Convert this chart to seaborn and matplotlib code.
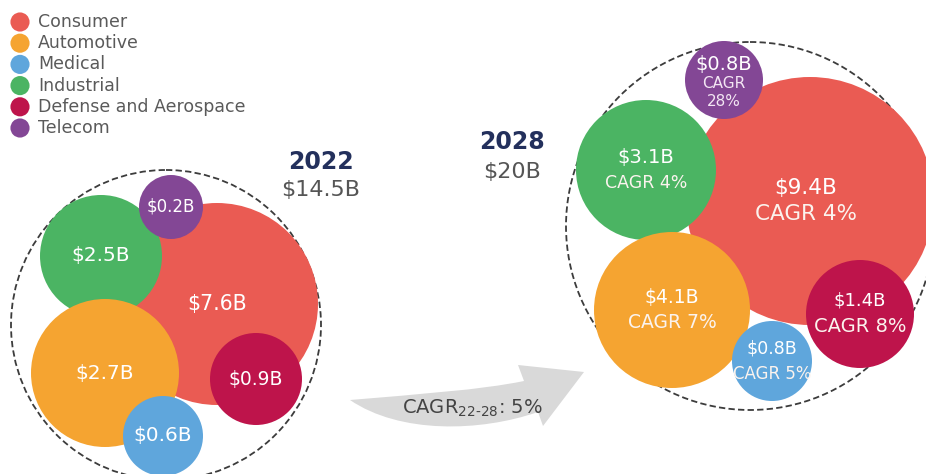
import matplotlib
matplotlib.use("Agg")
import matplotlib.pyplot as plt
from matplotlib.patches import Circle, PathPatch
from matplotlib.path import Path
import pandas as pd
import seaborn as sns

# market data (USD billions)
segments = ["Consumer", "Automotive", "Medical", "Industrial", "Defense and Aerospace", "Telecom"]
value_2022 = [7.6, 2.7, 0.6, 2.5, 0.9, 0.2]
value_2028 = [9.4, 4.1, 0.8, 3.1, 1.4, 0.8]
cagr_22_28 = [4, 7, 5, 4, 8, 28]
total_2022 = 14.5
total_2028 = 20
total_cagr = 5

colors = ["#EA5B53", "#F5A431", "#5FA6DC", "#4BB463", "#BE144B", "#834795"]

# bubble layout in pixel space (x, y, radius) -- hand placed like the original
layout_2022 = {
    "Consumer": (217, 304, 101),
    "Automotive": (105, 373, 74),
    "Medical": (163, 436, 40),
    "Industrial": (101, 256, 61),
    "Defense and Aerospace": (256, 379, 46),
    "Telecom": (171, 207, 32),
}
layout_2028 = {
    "Consumer": (810, 201, 124),
    "Automotive": (672, 310, 78),
    "Medical": (772, 361, 40),
    "Industrial": (646, 170, 70),
    "Defense and Aerospace": (860, 314, 54),
    "Telecom": (724, 80, 39),
}
font_2022 = [14.8, 14.5, 14.5, 14.5, 13.5, 12]
font_2028 = [15.5, 13.5, 12.5, 14, 13, 14]
font_cagr = [15.5, 13.5, 12, 12.5, 14, 11]
draw_order = ["Consumer", "Industrial", "Telecom", "Automotive", "Defense and Aerospace", "Medical"]

sns.set_theme(style="white")
plt.rcParams["font.family"] = ["DejaVu Sans"]

fig = plt.figure(figsize=(9.26, 4.74), dpi=100)
ax = fig.add_axes([0, 0, 1, 1])
ax.set_xlim(0, 926)
ax.set_ylim(474, 0)
ax.axis("off")

# legend as seaborn scatter
leg = pd.DataFrame({"segment": segments, "x": [20] * 6, "y": [22 + 21.2 * i for i in range(6)]})
sns.scatterplot(data=leg, x="x", y="y", hue="segment", palette=colors, s=190,
                edgecolor="none", legend=False, ax=ax)
for _, r in leg.iterrows():
    ax.text(r["x"] + 18, r["y"], r["segment"], fontsize=12.5, color="#5a5a5a",
            va="center", ha="left")

# dashed envelopes
ax.add_patch(Circle((166, 325), 155, fill=False, ls=(0, (3.5, 1.8)), lw=1.3, ec="#3c3c3c", zorder=1))
ax.add_patch(Circle((750, 226), 184, fill=False, ls=(0, (3.5, 1.8)), lw=1.3, ec="#3c3c3c", zorder=1))

col = dict(zip(segments, colors))
v22 = dict(zip(segments, value_2022))
v28 = dict(zip(segments, value_2028))
cg = dict(zip(segments, cagr_22_28))
f22 = dict(zip(segments, font_2022))
f28 = dict(zip(segments, font_2028))
fc = dict(zip(segments, font_cagr))

for z, seg in enumerate(draw_order):
    x, y, rad = layout_2022[seg]
    ax.add_patch(Circle((x, y), rad, color=col[seg], ec="none", zorder=2 + z))
    ax.text(x, y, f"${v22[seg]}B", color="white", fontsize=f22[seg],
            ha="center", va="center", zorder=20)

    x, y, rad = layout_2028[seg]
    ax.add_patch(Circle((x, y), rad, color=col[seg], ec="none", zorder=2 + z))
    if seg == "Telecom":
        ax.text(x, y - 16, f"${v28[seg]}B", color="white", fontsize=f28[seg], ha="center", va="center", zorder=20)
        ax.text(x, y + 3, "CAGR", color="#f3e6f3", fontsize=fc[seg], ha="center", va="center", zorder=20)
        ax.text(x, y + 21, f"{cg[seg]}%", color="#f3e6f3", fontsize=fc[seg], ha="center", va="center", zorder=20)
    else:
        cx = x - 4 if seg == "Consumer" else x
        ax.text(cx, y - 13, f"${v28[seg]}B", color="white", fontsize=f28[seg],
                ha="center", va="center", zorder=20)
        ax.text(cx, y + 13, f"CAGR {cg[seg]}%", color="#fbf3ee",
                fontsize=fc[seg], ha="center", va="center", zorder=20)

# year titles
ax.text(321, 162, "2022", fontsize=17, fontweight="bold", color="#23305c", ha="center", va="center")
ax.text(321, 190, f"${total_2022}B", fontsize=16, color="#555555", ha="center", va="center")
ax.text(512, 142, "2028", fontsize=17, fontweight="bold", color="#23305c", ha="center", va="center")
ax.text(512, 172, f"${total_2028}B", fontsize=16, color="#555555", ha="center", va="center")

# curved growth arrow
verts = [(350, 400), (420, 394), (480, 390), (524, 381), (518, 365), (584, 372),
         (543, 426), (538, 412), (480, 432), (400, 434), (350, 400), (350, 400)]
codes = [Path.MOVETO, Path.CURVE4, Path.CURVE4, Path.CURVE4, Path.LINETO, Path.LINETO,
         Path.LINETO, Path.LINETO, Path.CURVE4, Path.CURVE4, Path.CURVE4, Path.CLOSEPOLY]
ax.add_patch(PathPatch(Path(verts, codes), fc="#d9d9d9", ec="none", zorder=1))
ax.text(472, 408, r"CAGR$_{\mathrm{22\text{-}28}}$: " + f"{total_cagr}%", fontsize=14,
        color="#444444", ha="center", va="center", zorder=5)

fig.savefig("out.png", dpi=100)
